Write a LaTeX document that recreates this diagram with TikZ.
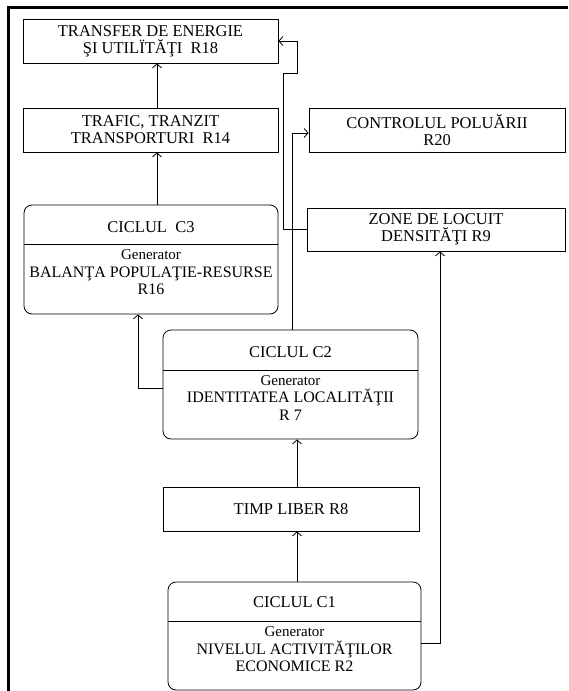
\documentclass[tikz,border=0pt]{standalone}
\usepackage{fontspec}
\setmainfont{Liberation Serif}
\usetikzlibrary{arrows.meta}

\tikzset{
  box/.style={draw, line width=0.8pt, minimum width=255pt, minimum height=44pt,
    inner sep=0pt, align=center, font=\fontsize{16.5}{17}\selectfont},
  ciclu/.style={box, rounded corners=8pt, minimum height=109pt},
  titlu/.style={inner sep=0pt, font=\fontsize{16.5}{17}\selectfont},
  corp/.style={inner sep=0pt, align=center, font=\fontsize{16}{17.5}\selectfont},
  arr/.style={-{Straight Barb[length=4pt,width=9pt]}, line width=0.8pt},
}
\newcommand{\gen}{\fontsize{15}{17}\selectfont}

\begin{document}
\begin{tikzpicture}[x=1pt,y=-1pt]
  \useasboundingbox (0,0) rectangle (568,691);
  \draw[line width=2.5pt] (8.5,691) -- (8.5,7.5) -- (568,7.5);

  % left column
  \node[box] (r18) at (150.5,41) {TRANSFER DE ENERGIE\\ŞI UTILÏTĂŢI\ \ R18};
  \node[box] (r14) at (150.5,130) {TRAFIC, TRANZIT\\TRANSPORTURI\ \ R14};
  \node[ciclu, minimum width=254pt] (c3) at (151,259.5) {};
  \node[titlu] (c3t) at (151,227) {CICLUL\ \ C3};
  \node[corp] (c3g) at (151,272.5) {{\gen Generator}\\BALANŢA POPULAŢIE-RESURSE\\R16};
  \draw[line width=0.8pt] (c3.west |- 0,244) -- (c3.east |- 0,244);

  % middle column
  \node[ciclu] (c2) at (290.5,384.5) {};
  \node[titlu] (c2t) at (290.5,352) {CICLUL C2};
  \node[corp] (c2g) at (290.5,398) {{\gen Generator}\\IDENTITATEA LOCALITĂŢII\\R 7};
  \draw[line width=0.8pt] (c2.west |- 0,370) -- (c2.east |- 0,370);
  \node[box, minimum width=256pt] (timp) at (291,509) {TIMP LIBER R8};
  \node[ciclu, minimum width=253pt, minimum height=108pt] (c1) at (294.5,636) {};
  \node[titlu] (c1t) at (294.5,602) {CICLUL C1};
  \node[corp] (c1g) at (294.5,649.5) {{\gen Generator}\\NIVELUL ACTIVITĂŢILOR\\ECONOMICE R2};
  \draw[line width=0.8pt] (c1.west |- 0,621) -- (c1.east |- 0,621);

  % right column
  \node[box, minimum width=256pt] (r20) at (437,130) {CONTROLUL POLUĂRII\\R20};
  \node[box, minimum width=258pt, minimum height=43pt] (r9) at (436,229.5) {ZONE DE LOCUIT\\DENSITĂŢI R9};

  % connectors
  \draw[arr] ([xshift=6.5pt]r14.north) -- ([xshift=6.5pt]r18.south);
  \draw[arr] ([xshift=6pt]c3.north) -- ([xshift=6.5pt]r14.south);
  \draw[arr] ([yshift=-3.5pt]c2.west) -| ([xshift=-13pt]c3.south);
  \draw[arr] ([xshift=1.5pt]c2.north) |- ([yshift=-3pt]r20.west);
  \draw[arr] (r9.west) -- (283,229.5) -- (283,73) -- (297,73) -- (297,41) -- (r18.east);
  \draw[arr] ([yshift=-7pt]c1.east) -| ([xshift=4pt]r9.south);
  \draw[arr] ([xshift=6pt]timp.north) -- ([xshift=6.5pt]c2.south);
  \draw[arr] ([xshift=2.5pt]c1.north) -- ([xshift=6pt]timp.south);
\end{tikzpicture}
\end{document}
